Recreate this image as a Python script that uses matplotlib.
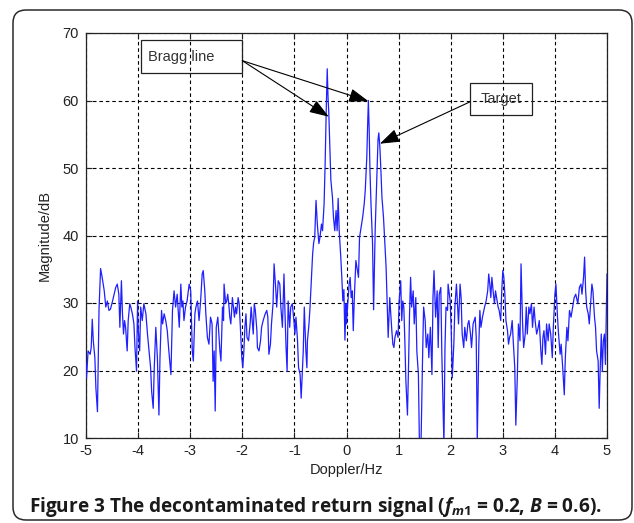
import matplotlib
matplotlib.use("Agg")
import matplotlib.pyplot as plt
from matplotlib.patches import FancyBboxPatch, Rectangle

# ---------------- data ----------------
doppler_hz = [
    -5.00, -4.99, -4.96, -4.92, -4.90, -4.88, -4.86, -4.83, -4.81, -4.78, -4.76, -4.75, -4.72, -4.69,
    -4.65, -4.62, -4.59, -4.56, -4.53, -4.49, -4.46, -4.43, -4.40, -4.37, -4.35, -4.32, -4.30,
    -4.28, -4.26, -4.24, -4.21, -4.19, -4.16, -4.14, -4.11, -4.08, -4.06, -4.03, -4.01, -4.00,
    -3.97, -3.95, -3.92, -3.89, -3.85, -3.82, -3.79, -3.76, -3.74, -3.71, -3.69, -3.66, -3.63,
    -3.60, -3.58, -3.55, -3.53, -3.50, -3.47, -3.44, -3.41, -3.37, -3.34, -3.31, -3.28, -3.25,
    -3.21, -3.18, -3.16, -3.14, -3.12, -3.09, -3.06, -3.02, -2.99, -2.96, -2.94, -2.91, -2.89,
    -2.86, -2.83, -2.80, -2.77, -2.75, -2.72, -2.70, -2.67, -2.64, -2.61, -2.58, -2.56, -2.54,
    -2.52, -2.50, -2.47, -2.43, -2.41, -2.38, -2.36, -2.35, -2.32, -2.30, -2.28, -2.26, -2.24,
    -2.22, -2.19, -2.17, -2.15, -2.13, -2.11, -2.08, -2.06, -2.04, -2.01, -1.99, -1.97, -1.95,
    -1.93, -1.91, -1.88, -1.85, -1.83, -1.81, -1.79, -1.77, -1.75, -1.72, -1.71, -1.68, -1.65,
    -1.63, -1.60, -1.56, -1.53, -1.51, -1.49, -1.46, -1.44, -1.41, -1.39, -1.36, -1.34, -1.31,
    -1.28, -1.26, -1.23, -1.20, -1.18, -1.16, -1.14, -1.12, -1.09, -1.07, -1.04, -1.01, -0.99,
    -0.97, -0.94, -0.92, -0.89, -0.87, -0.85, -0.83, -0.81, -0.78, -0.76, -0.75, -0.72, -0.70,
    -0.67, -0.65, -0.63, -0.61, -0.585, -0.56, -0.53, -0.51, -0.48, -0.46, -0.43, -0.41, -0.39,
    -0.37, -0.355, -0.34, -0.32, -0.30, -0.27, -0.25, -0.225, -0.20, -0.18, -0.16, -0.14, -0.11,
    -0.09, -0.07, -0.05, -0.03, -0.01, 0.00, 0.02, 0.05, 0.07, 0.09, 0.11, 0.13, 0.15, 0.18,
    0.20, 0.23, 0.25, 0.28, 0.31, 0.34, 0.36, 0.39, 0.405, 0.42, 0.435, 0.45, 0.47, 0.50, 0.52,
    0.55, 0.58, 0.605, 0.62, 0.64, 0.66, 0.68, 0.71, 0.74, 0.76, 0.79, 0.80, 0.83, 0.87, 0.89,
    0.91, 0.93, 0.96, 0.99, 1.01, 1.04, 1.06, 1.08, 1.10, 1.12, 1.14, 1.17, 1.19, 1.21, 1.23,
    1.25, 1.28, 1.30, 1.33, 1.35, 1.38, 1.40, 1.43, 1.46, 1.48, 1.51, 1.53, 1.56, 1.58, 1.61,
    1.64, 1.66, 1.68, 1.71, 1.74, 1.76, 1.78, 1.81, 1.83, 1.85, 1.87, 1.89, 1.91, 1.94, 1.95,
    1.99, 2.01, 2.03, 2.06, 2.08, 2.11, 2.15, 2.18, 2.20, 2.22, 2.25, 2.27, 2.30, 2.33, 2.35,
    2.38, 2.40, 2.43, 2.47, 2.49, 2.51, 2.54, 2.56, 2.58, 2.61, 2.65, 2.68, 2.71, 2.73, 2.75,
    2.77, 2.79, 2.82, 2.84, 2.86, 2.88, 2.91, 2.93, 2.96, 2.98, 3.00, 3.02, 3.04, 3.06, 3.09,
    3.11, 3.13, 3.15, 3.18, 3.20, 3.23, 3.25, 3.28, 3.30, 3.33, 3.35, 3.38, 3.40, 3.43, 3.45,
    3.47, 3.50, 3.52, 3.55, 3.57, 3.60, 3.62, 3.65, 3.68, 3.70, 3.73, 3.75, 3.77, 3.79, 3.82,
    3.84, 3.87, 3.89, 3.92, 3.95, 3.97, 4.00, 4.02, 4.05, 4.07, 4.10, 4.12, 4.15, 4.18, 4.20,
    4.23, 4.25, 4.28, 4.31, 4.34, 4.37, 4.40, 4.44, 4.47, 4.50, 4.52, 4.55, 4.57, 4.59, 4.61,
    4.64, 4.66, 4.69, 4.71, 4.73, 4.76, 4.78, 4.80, 4.83, 4.85, 4.87, 4.89, 4.91, 4.93, 4.95,
    4.97, 5.00,
]
magnitude_db = [
    21.0, 18.9, 22.9, 22.4, 23.4, 27.6, 24.4, 21.9, 17.4, 13.9, 24.4, 29.1, 35.1, 33.8,
    31.8, 29.4, 30.3, 28.9, 29.1, 30.3, 31.3, 32.3, 32.8, 31.3, 26.4, 33.3, 28.4,
    25.4, 27.4, 26.4, 22.9, 27.4, 29.9, 29.4, 28.4, 26.9, 23.4, 19.9, 30.3, 26.4,
    22.9, 29.4, 27.4, 29.9, 28.4, 25.4, 22.9, 20.4, 16.9, 14.4, 20.4, 26.4, 21.9,
    13.4, 21.9, 28.9, 26.9, 28.4, 27.4, 25.9, 22.9, 19.4, 28.9, 31.8, 29.4, 31.3,
    26.4, 32.8, 29.4, 30.3, 27.4, 29.4, 30.3, 32.8, 31.8, 22.9, 21.4, 28.4, 29.4,
    30.3, 27.4, 30.3, 34.3, 34.8, 31.8, 28.4, 24.9, 23.9, 27.9, 26.9, 18.4, 22.9,
    14.0, 26.4, 27.9, 22.9, 21.4, 29.4, 27.4, 32.8, 29.9, 30.3, 31.3, 29.9, 27.9,
    26.9, 30.8, 29.4, 27.9, 29.4, 28.4, 30.8, 29.9, 26.9, 21.9, 20.4, 22.9, 26.4,
    28.4, 24.9, 24.4, 26.9, 29.4, 27.4, 25.4, 29.9, 28.9, 25.9, 23.4, 22.9, 24.4,
    26.4, 27.4, 28.4, 28.9, 27.9, 22.4, 23.9, 26.9, 29.9, 35.8, 32.3, 29.4, 33.3,
    32.8, 29.4, 26.4, 34.3, 28.4, 23.4, 19.9, 30.3, 26.4, 29.4, 29.9, 27.4, 25.4,
    27.9, 24.4, 20.4, 19.4, 15.9, 19.4, 22.9, 29.4, 22.9, 20.4, 24.4, 26.9, 29.4,
    34.3, 37.3, 39.0, 39.7, 45.2, 41.7, 38.8, 39.7, 41.7, 40.7, 44.7, 50.7, 58.2,
    64.7, 60.6, 58.2, 53.2, 48.2, 45.7, 42.7, 40.7, 43.7, 40.7, 45.5, 40.7, 36.8,
    33.8, 30.3, 32.0, 24.5, 29.9, 26.9, 29.4, 32.8, 33.8, 30.8, 31.8, 25.9, 30.8, 36.3,
    35.3, 33.8, 39.7, 41.2, 42.7, 44.7, 46.7, 51.7, 56.2, 60.0, 55.7, 49.7, 44.7, 38.8, 29.0,
    40.7, 48.2, 54.2, 55.2, 53.2, 49.7, 45.7, 42.7, 38.3, 35.3, 27.4, 24.9, 30.8, 25.9, 23.9,
    23.4, 24.9, 25.9, 24.9, 30.3, 33.3, 27.4, 30.3, 29.4, 24.4, 18.4, 13.4, 20.4, 28.4, 33.8,
    29.4, 31.8, 26.9, 30.8, 22.9, 19.4, 9.0, 9.0, 21.9, 29.4, 27.4, 23.4, 25.4, 21.9, 26.4,
    19.4, 30.8, 34.8, 27.9, 31.8, 23.4, 31.3, 32.3, 22.4, 15.4, 9.0, 23.4, 29.4, 28.9, 32.8,
    30.3, 25.9, 18.9, 23.9, 29.4, 32.8, 26.9, 32.8, 30.8, 25.4, 23.4, 26.4, 24.4, 26.9, 27.4,
    25.4, 23.4, 26.9, 27.9, 24.9, 9.5, 23.9, 28.9, 26.4, 27.9, 29.4, 30.3, 31.8, 34.3, 32.8,
    30.8, 33.8, 31.3, 29.9, 31.8, 30.8, 29.4, 28.9, 27.4, 31.8, 34.8, 33.8, 31.3, 27.4, 25.9,
    23.9, 24.9, 25.4, 27.4, 24.4, 20.4, 11.9, 19.4, 26.9, 24.4, 35.8, 26.9, 23.4, 25.4, 29.4,
    25.4, 29.4, 28.4, 29.9, 26.4, 29.4, 27.4, 25.4, 26.4, 27.4, 22.9, 20.9, 24.9, 25.9, 22.4,
    26.9, 24.4, 26.9, 25.4, 21.9, 26.4, 31.3, 32.8, 27.9, 25.4, 22.4, 23.9, 20.4, 16.4, 21.9,
    26.4, 24.4, 28.9, 27.9, 29.4, 30.8, 31.3, 29.9, 32.3, 32.8, 31.3, 33.8, 36.8, 31.8, 29.4,
    28.4, 26.9, 30.3, 32.8, 31.8, 27.9, 26.4, 22.9, 21.4, 14.4, 20.4, 25.4, 19.9, 24.4, 25.4,
    20.9, 34.3,
]
x_ticks = [-5, -4, -3, -2, -1, 0, 1, 2, 3, 4, 5]
y_ticks = [10, 20, 30, 40, 50, 60, 70]
x_label = "Doppler/Hz"
y_label = "Magnitude/dB"
bragg_text = "Bragg line"
target_text = "Target"
caption = r"Figure 3 The decontaminated return signal ($f_{m1}$ = 0.2, $B$ = 0.6)."

# ---------------- styling ----------------
plt.rcParams["font.family"] = ["Liberation Sans", "DejaVu Sans"]
plt.rcParams["mathtext.fontset"] = "custom"
plt.rcParams["mathtext.it"] = "Open Sans:italic:bold"
plt.rcParams["mathtext.rm"] = "Open Sans:bold"
plt.rcParams["mathtext.bf"] = "Open Sans:bold"

W, H = 634, 523
fig = plt.figure(figsize=(W / 100, H / 100), dpi=100)
fig.patch.set_facecolor("white")

# rounded frame around the whole figure
frame = FancyBboxPatch((0.13, 0.03), 6.19, 5.10,
                       boxstyle="round,pad=0,rounding_size=0.13",
                       transform=fig.dpi_scale_trans, fill=False,
                       edgecolor="#2a2a2a", linewidth=1.1)
fig.patches.append(frame)

ax = fig.add_axes([86 / W, 1 - 438 / H, 521 / W, 405 / H])
ax.plot(doppler_hz, magnitude_db, color="#1f1fff", linewidth=0.9, zorder=3)
ax.set_xlim(-5, 5)
ax.set_ylim(10, 70)
ax.set_xticks(x_ticks)
ax.set_yticks(y_ticks)
ax.set_xticklabels([str(t) for t in x_ticks])
ax.set_yticklabels([str(t) for t in y_ticks])
ax.grid(True, color="black", linestyle=(0, (3.2, 2.6)), linewidth=0.8, zorder=1)
ax.tick_params(direction="in", length=4, width=0.8, top=True, right=True,
               labelsize=10.5, colors="#222222", pad=4)
ax.tick_params(axis="y", pad=5)
for s in ax.spines.values():
    s.set_linewidth(0.9)
    s.set_color("#222222")
ax.set_xlabel(x_label, fontsize=10.5, color="#222222", labelpad=4)
ax.set_ylabel(y_label, fontsize=10.5, color="#222222", labelpad=8)

# annotation boxes (transparent, grid shows through)
ax.add_patch(Rectangle((-3.94, 64.1), 1.94, 4.8, fill=False,
                       edgecolor="#222222", linewidth=0.9, zorder=4, clip_on=False))
ax.text(-3.81, 66.5, bragg_text, fontsize=10.5, color="#333333",
        ha="left", va="center", zorder=5)
ax.add_patch(Rectangle((2.37, 57.8), 1.20, 4.8, fill=False,
                       edgecolor="#222222", linewidth=0.9, zorder=4, clip_on=False))
ax.text(2.97, 60.2, target_text, fontsize=10.5, color="#333333",
        ha="center", va="center", zorder=5)

arrow_kw = dict(arrowstyle="-|>,head_length=1.2,head_width=0.42",
                color="black", lw=0.8, shrinkA=0, shrinkB=0)
ax.annotate("", xy=(-0.34, 57.6), xytext=(-2.0, 65.9), arrowprops=arrow_kw, zorder=6)
ax.annotate("", xy=(0.42, 59.9), xytext=(-2.0, 65.9), arrowprops=arrow_kw, zorder=6)
ax.annotate("", xy=(0.64, 53.6), xytext=(2.37, 59.8), arrowprops=arrow_kw, zorder=6)

fig.text(29 / W, 1 - 507 / H, caption, fontsize=13.7, fontweight="bold",
         family=["Open Sans", "DejaVu Sans"], color="#1a1a1a",
         ha="left", va="center")

fig.savefig("out.png", dpi=100)
